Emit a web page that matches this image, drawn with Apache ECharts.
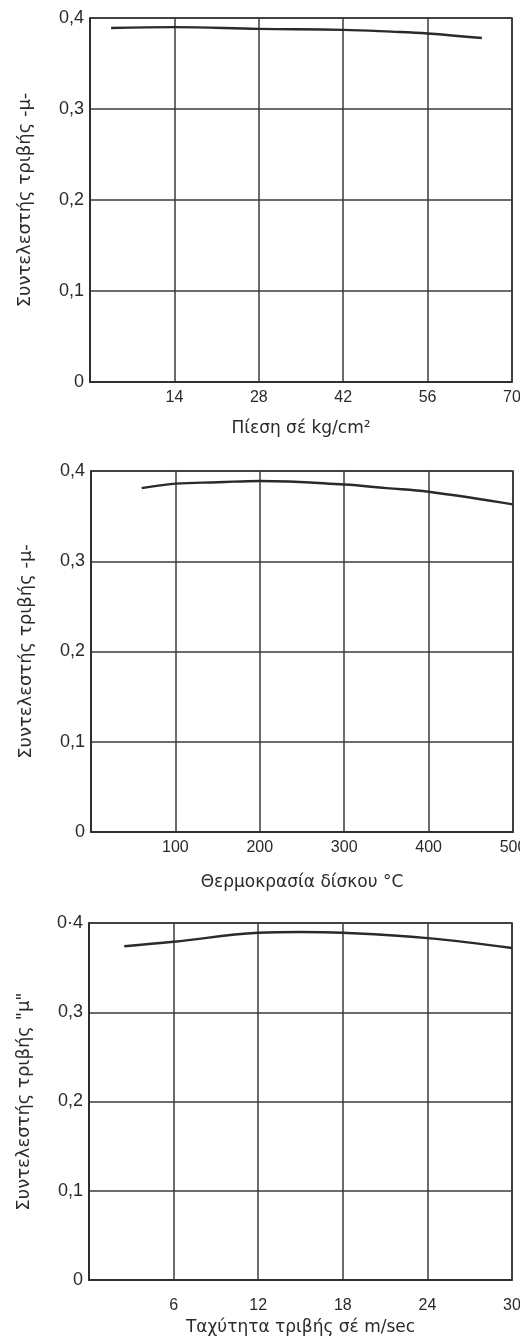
<!DOCTYPE html>
<html>
<head>
<meta charset="utf-8">
<script src="https://cdn.jsdelivr.net/npm/echarts@6/dist/echarts.min.js"></script>
<style>
html,body{margin:0;padding:0;background:#fff;overflow:hidden;}
#c{width:520px;height:1340px;}
</style>
</head>
<body>
<div id="c"></div>
<script>
// ---- data ----
const pressure = [3.5, 14, 28, 42, 50, 56, 65];
const muPressure = [0.389, 0.390, 0.388, 0.387, 0.385, 0.383, 0.378];

const temperature = [60, 100, 150, 200, 300, 350, 400, 500];
const muTemperature = [0.381, 0.386, 0.3875, 0.389, 0.385, 0.381, 0.377, 0.363];

const speed = [2.5, 6, 12, 15, 18, 24, 30];
const muSpeed = [0.374, 0.379, 0.389, 0.390, 0.389, 0.383, 0.372];

const yTickLabels1 = ['0', '0,1', '0,2', '0,3', '0,4'];
const yTickLabels2 = ['0', '0,1', '0,2', '0,3', '0,4'];
const yTickLabels3 = ['0', '0,1', '0,2', '0,3', '0·4'];

const yName = 'Συντελεστής τριβής -μ-';
const yName3 = 'Συντελεστής τριβής "μ"';
const xNames = ['Πίεση σέ kg/cm²', 'Θερμοκρασία δίσκου °C', 'Ταχύτητα τριβής σέ m/sec'];

// ---- chart ----
const FONT = 'Liberation Sans, Arial, sans-serif';
const NAMEFONT = 'DejaVu Sans, sans-serif';
const INK = '#2a2a2a';
const chart = echarts.init(document.getElementById('c'), null, {renderer: 'canvas'});

const grids = [
  {left: 90, top: 18, width: 422, height: 364},
  {left: 91, top: 471, width: 422, height: 361},
  {left: 89, top: 923, width: 423, height: 357}
];

function xAxis(i, max, interval, nameGap, labelMargin) {
  return {
    type: 'value', gridIndex: i, min: 0, max: max, interval: interval,
    name: xNames[i], nameLocation: 'middle', nameGap: nameGap,
    nameTextStyle: {fontFamily: NAMEFONT, fontSize: 17, color: INK},
    axisLine: {show: true, lineStyle: {color: INK, width: 1.6}},
    axisTick: {show: false},
    axisLabel: {
      fontFamily: FONT, fontSize: 16, color: INK, margin: labelMargin,
      showMinLabel: false,
      formatter: v => (v === 0 ? '' : String(v))
    },
    splitLine: {show: true, lineStyle: {color: '#3a3a3a', width: 1.5}}
  };
}
function yAxis(i, labels, name) {
  return {
    type: 'value', gridIndex: i, min: 0, max: 0.4, interval: 0.1,
    name: name, nameLocation: 'middle', nameGap: 56, nameRotate: 90,
    nameTextStyle: {fontFamily: NAMEFONT, fontSize: 18, color: INK},
    axisLine: {show: true, lineStyle: {color: INK, width: 1.6}},
    axisTick: {show: false},
    axisLabel: {
      fontFamily: FONT, fontSize: 18, color: INK, margin: 6,
      formatter: v => labels[Math.round(v * 10)]
    },
    splitLine: {show: true, lineStyle: {color: '#3a3a3a', width: 1.5}}
  };
}
function series(i, xs, ys) {
  return {
    type: 'line', xAxisIndex: i, yAxisIndex: i,
    data: xs.map((x, k) => [x, ys[k]]),
    smooth: 0.4, showSymbol: false, symbol: 'none',
    lineStyle: {color: '#2a2a2a', width: 2.4},
    silent: true, animation: false
  };
}

chart.setOption({
  animation: false,
  backgroundColor: '#fff',
  grid: grids.map(g => Object.assign({show: true, borderColor: INK, borderWidth: 1.6, containLabel: false, outerBoundsMode: 'none'}, g)),
  xAxis: [xAxis(0, 70, 14, 38, 8), xAxis(1, 500, 100, 42, 8), xAxis(2, 30, 6, 39, 18)],
  yAxis: [yAxis(0, yTickLabels1, yName), yAxis(1, yTickLabels2, yName), yAxis(2, yTickLabels3, yName3)],
  series: [series(0, pressure, muPressure), series(1, temperature, muTemperature), series(2, speed, muSpeed)]
});
</script>
</body>
</html>
